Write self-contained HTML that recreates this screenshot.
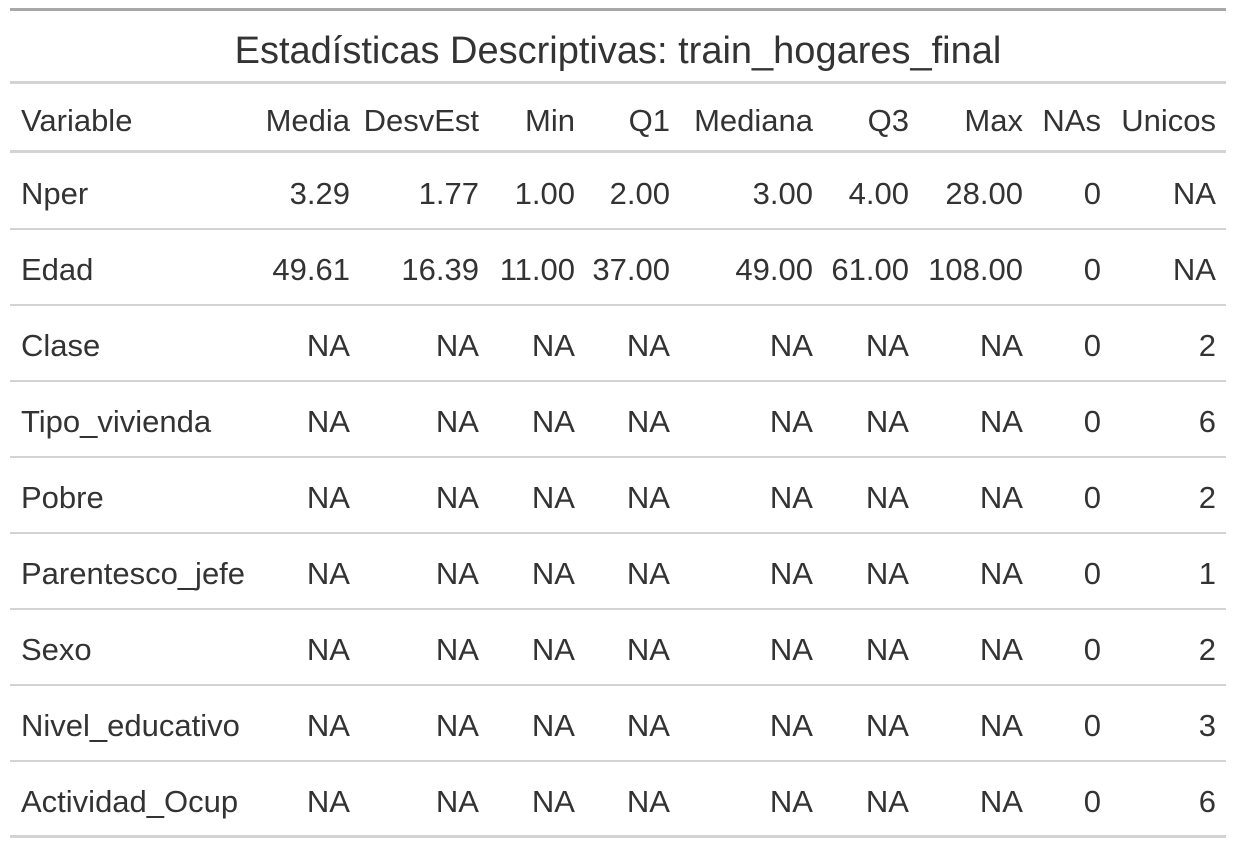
<!DOCTYPE html>
<html><head><meta charset="utf-8"><style>
body{margin:0;background:#fff;width:1236px;height:848px;overflow:hidden;font-family:"Liberation Sans","DejaVu Sans",sans-serif;color:#333;}
.wrap{position:absolute;left:10px;top:0;width:1216px;height:848px;}
.hl{position:absolute;left:0;width:1216px;background:#d3d3d3;}
.t{position:absolute;white-space:nowrap;font-size:31px;line-height:36px;}
.r{text-align:right;}
</style></head><body>
<div class="wrap" id="tbl">
<div class="hl" style="top:8px;height:3px;background:#a8a8a8"></div>
<div class="t" style="left:0;width:1216px;text-align:center;top:31px;font-size:38px;line-height:40px">Estadísticas Descriptivas: train_hogares_final</div>
<div class="hl" style="top:81px;height:3px"></div>
<div class="hl" style="top:150px;height:3px"></div>
</div>
<script>
const columns=["Variable","Media","DesvEst","Min","Q1","Mediana","Q3","Max","NAs","Unicos"];
const rightEdges=[0,340,469,565,660,803,899,1013,1091,1206];
const variables=["Nper","Edad","Clase","Tipo_vivienda","Pobre","Parentesco_jefe","Sexo","Nivel_educativo","Actividad_Ocup"];
const media=["3.29","49.61","NA","NA","NA","NA","NA","NA","NA"];
const desvest=["1.77","16.39","NA","NA","NA","NA","NA","NA","NA"];
const mins=["1.00","11.00","NA","NA","NA","NA","NA","NA","NA"];
const q1=["2.00","37.00","NA","NA","NA","NA","NA","NA","NA"];
const mediana=["3.00","49.00","NA","NA","NA","NA","NA","NA","NA"];
const q3=["4.00","61.00","NA","NA","NA","NA","NA","NA","NA"];
const maxs=["28.00","108.00","NA","NA","NA","NA","NA","NA","NA"];
const nas=["0","0","0","0","0","0","0","0","0"];
const unicos=["NA","NA","2","6","2","1","2","3","6"];
const tbl=document.getElementById('tbl');
function cell(txt,ci,top,name){
  const d=document.createElement('div');
  d.className='t';
  d.textContent=txt;
  d.style.top=top+'px';
  if(ci===0){d.style.left='11px';}
  else{d.classList.add('r');d.style.left=(rightEdges[ci]-220)+'px';d.style.width='220px';}
  
  
  tbl.appendChild(d);
}
columns.forEach((c,i)=>cell(c,i,103,'header-'+c.toLowerCase()));
const cols=[variables,media,desvest,mins,q1,mediana,q3,maxs,nas,unicos];
variables.forEach((v,r)=>{
  const top=176+r*76;
  cols.forEach((arr,ci)=>cell(arr[r],ci,top,'cell-'+v.toLowerCase()+'-'+columns[ci].toLowerCase()));
  const line=document.createElement('div');
  line.className='hl';
  const last=r===variables.length-1;
  line.style.top=(last?835:228+r*76)+'px';
  line.style.height=(last?3:2)+'px';
  
  
  tbl.appendChild(line);
});
</script>
</body></html>
